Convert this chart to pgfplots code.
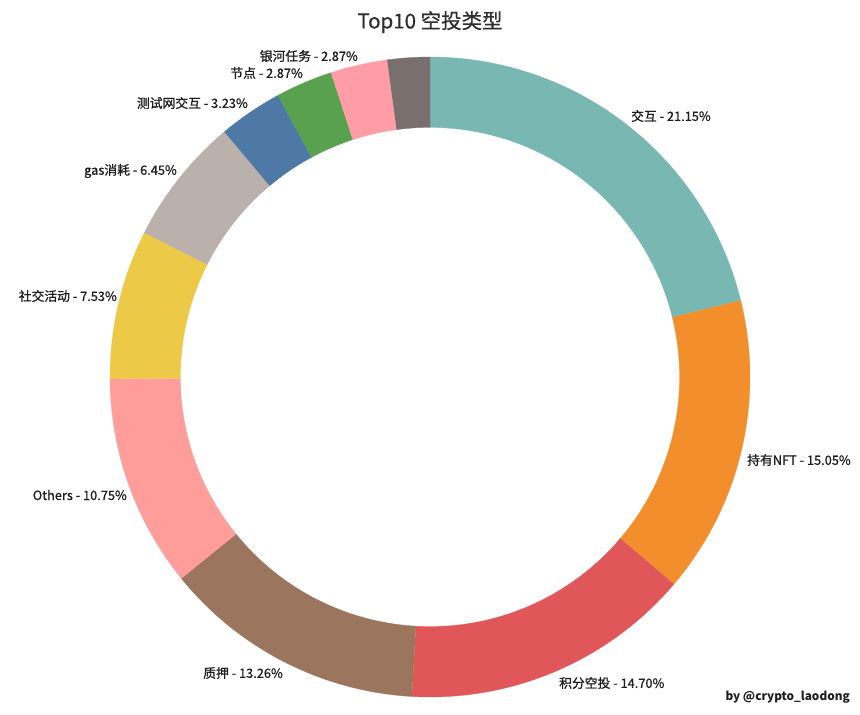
\documentclass[border=0pt]{standalone}
\usepackage{fontspec}
\setmainfont{Noto Sans CJK SC}
\newfontfamily\labfont[FakeBold=0.9]{Noto Sans CJK SC}
\newfontfamily\titfont[FakeBold=0.5]{Noto Sans CJK SC}
\usepackage{pgfplots}
\usepackage{pgfplotstable}
\pgfplotsset{compat=1.18}
\definecolor{c0}{HTML}{79B7B2}
\definecolor{c1}{HTML}{F28E2B}
\definecolor{c2}{HTML}{E15759}
\definecolor{c3}{HTML}{9C755F}
\definecolor{c4}{HTML}{FF9D9A}
\definecolor{c5}{HTML}{EDC948}
\definecolor{c6}{HTML}{BAB0AC}
\definecolor{c7}{HTML}{4E79A7}
\definecolor{c8}{HTML}{59A14F}
\definecolor{c9}{HTML}{FF9DA7}
\definecolor{c10}{HTML}{79706E}
\definecolor{txt}{HTML}{1E1E1E}
% value (percent); label position (pixels from top-left) and anchor
\pgfplotstableread[col sep=comma]{
label,value,lx,ly,anc
交互,21.15,631,116,west
持有NFT,15.05,747,460,west
积分空投,14.70,559,683,west
质押,13.26,283,673,east
Others,10.75,127,495,east
社交活动,7.53,117,296,east
gas消耗,6.45,177,171,east
测试网交互,3.23,248,103,east
节点,2.87,303,73,east
银河任务,2.87,358,56,east
rest,2.14,0,0,east
}\datatable
\begin{document}
\begin{tikzpicture}
\begin{axis}[x=320pt,y=320pt,
  xmin=-1.34375,xmax=1.34375,ymin=-1.05625,ymax=1.178125,
  axis line style={draw=none}, xtick=\empty, ytick=\empty, clip=false]
\gdef\cum{0}
\pgfplotsforeachungrouped \i in {0,...,10}{%
  \pgfplotstablegetelem{\i}{value}\of\datatable
  \let\v\pgfplotsretval
  \pgfplotstablegetelem{\i}{label}\of\datatable
  \let\lab\pgfplotsretval
  \pgfplotstablegetelem{\i}{lx}\of\datatable
  \pgfmathsetmacro\LX{(\pgfplotsretval-430)/320}%
  \pgfplotstablegetelem{\i}{ly}\of\datatable
  \pgfmathsetmacro\LY{(377-\pgfplotsretval)/320}%
  \pgfplotstablegetelem{\i}{anc}\of\datatable
  \let\anc\pgfplotsretval
  \pgfmathsetmacro\A{90-3.6*\cum}%
  \pgfmathsetmacro\B{90-3.6*(\cum+\v)}%
  \pgfmathsetmacro\cumnew{\cum+\v}%
  \global\let\cum\cumnew
  \edef\doit{\noexpand\addplot[fill=c\i, draw=c\i, line width=0.3pt, variable=\noexpand\t, domain=0:2.2, samples=221]
    ({((\noexpand\t<=1.1)?1:0.78)*cos((\noexpand\t<=1.1)?((\A)+((\B)-(\A))*min(\noexpand\t,1)):((\B)+((\A)-(\B))*max(min(\noexpand\t-1.2,1),0)))},
     {((\noexpand\t<=1.1)?1:0.78)*sin((\noexpand\t<=1.1)?((\A)+((\B)-(\A))*min(\noexpand\t,1)):((\B)+((\A)-(\B))*max(min(\noexpand\t-1.2,1),0)))});}%
  \doit
  \ifnum\i<10
    \edef\doit{\noexpand\node[anchor=\anc, inner sep=0pt, text=txt, font=\noexpand\labfont\noexpand\fontsize{12.8}{15}\noexpand\selectfont] at (axis cs:\LX,\LY) {\lab\space-\space\v\noexpand\%};}%
    \doit
  \fi
}
\node[font=\titfont\fontsize{20.5}{24}\selectfont, text=black!82] at (axis cs:0,1.109) {Top10 空投类型};
\node[anchor=east, inner sep=0pt, font=\bfseries\fontsize{11.8}{14}\selectfont, text=txt] at (axis cs:1.3125,-1.0) {by @crypto\_laodong};
\end{axis}
\end{tikzpicture}
\end{document}
